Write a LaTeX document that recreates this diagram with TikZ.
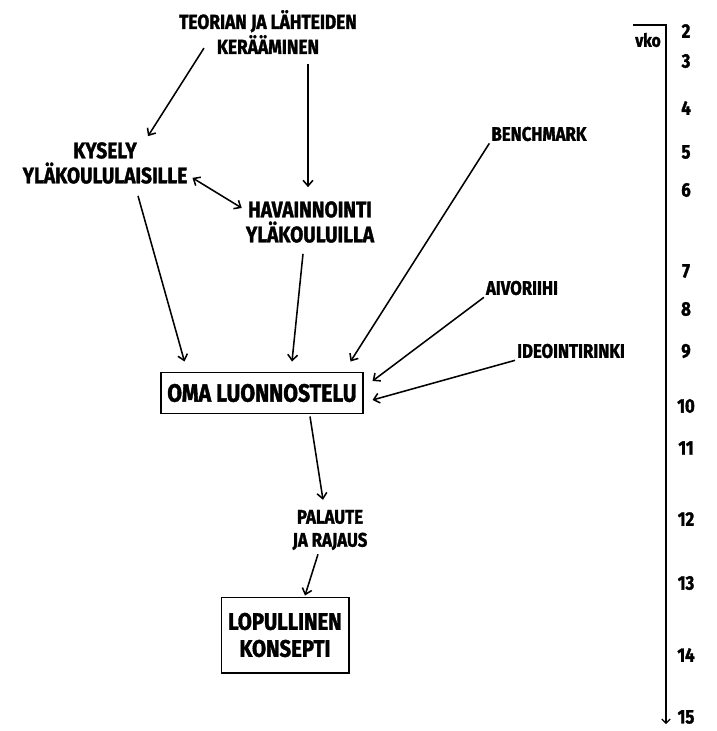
\documentclass[tikz,border=0pt]{standalone}
\usepackage{fontspec}
\setmainfont{Fira Sans}[FakeStretch=0.85, BoldFeatures={FakeBold=1.5}]
\usetikzlibrary{calc,arrows.meta}

\begin{document}
\begin{tikzpicture}[
    x=0.025cm, y=-0.025cm,
    phase/.style={font=\bfseries\fontsize{14.5}{17.8}\selectfont, align=center, inner sep=1pt},
    survey/.style={phase, font=\bfseries\fontsize{16}{17.8}\selectfont},
    source/.style={font=\bfseries\fontsize{14}{16.4}\selectfont, align=center, inner sep=1pt},
    box/.style={draw, line width=1.4pt, align=center},
    week/.style={font=\bfseries\fontsize{14}{14}\selectfont, inner sep=0pt},
    >={Straight Barb[length=4pt,width=7pt]}, line width=1.1pt
  ]
  \useasboundingbox (0,0) rectangle (717,731);
  % sources and phases
  \node[phase] (teoria) at (268,32) {TEORIAN JA LÄHTEIDEN\\KERÄÄMINEN};
  \node[survey] (kysely) at (105,163) {KYSELY\\YLÄKOULULAISILLE};
  \node[survey] (havainnointi) at (310,222) {HAVAINNOINTI\\YLÄKOULUILLA};
  \node[source] (benchmark) at (539,134) {BENCHMARK};
  \node[source] (aivoriihi) at (522,288) {AIVORIIHI};
  \node[source] (ideointi) at (571,351) {IDEOINTIRINKI};
  \node[box, minimum width=5.025cm, minimum height=1.025cm,
        font=\bfseries\fontsize{17.8}{19.2}\selectfont] (luonnostelu) at (262,393) {OMA LUONNOSTELU};
  \node[source] (palaute) at (330,530) {PALAUTE\\JA RAJAUS};
  \node[box, minimum width=3.175cm, minimum height=1.875cm,
        font=\bfseries\fontsize{17}{19.2}\selectfont] (konsepti) at (285,635) {LOPULLINEN\\KONSEPTI};
  % connectors
  \draw[->] ($(teoria.south west)+(27,-8)$) -- ($(kysely.north)+(43,-4)$);
  \draw[->] ($(teoria.south)+(40,8)$) -- ($(havainnointi.north)+(-2,-12)$);
  \draw[<->] ($(kysely.south east)+(3,-8)$) -- ($(havainnointi.west)+(-2,-14)$);
  \draw[->] ($(kysely.south)+(33,10)$) -- ($(luonnostelu.north west)+(24,-10)$);
  \draw[->] ($(havainnointi.south)+(-7,9)$) -- ($(luonnostelu.north)+(30,-10)$);
  \draw[->] (benchmark.south west) -- ($(luonnostelu.north east)+(-13,-10)$);
  \draw[->] (aivoriihi.south west) -- ($(luonnostelu.east)+(9,-12)$);
  \draw[->] (ideointi.south west) -- ($(luonnostelu.east)+(9,7)$);
  \draw[->] ($(luonnostelu.south)+(48,2)$) -- ($(palaute.north)+(-7,-8)$);
  \draw[->] ($(palaute.south)+(-12,2)$) -- ($(konsepti.north)+(20,-1)$);
  % timeline
  \coordinate (vkoleft) at (633,25);
  \coordinate (vkotop) at (666,25);
  \coordinate (vkoend) at (666,724);
  \draw[->, line width=0.8pt, >={Straight Barb[length=3pt,width=6pt]}] (vkoleft) -- (vkotop) -- (vkoend);
  \node[week, font=\bfseries\fontsize{13}{13}\selectfont] (vko) at (648,40) {vko};
  \foreach \n/\y in {2/31, 3/61, 4/108, 5/152, 6/190, 7/271, 8/309, 9/351,
                     10/406, 11/448, 12/519, 13/583, 14/655, 15/717}
    \node[week] (w\n) at (686,\y) {\n};
\end{tikzpicture}
\end{document}
